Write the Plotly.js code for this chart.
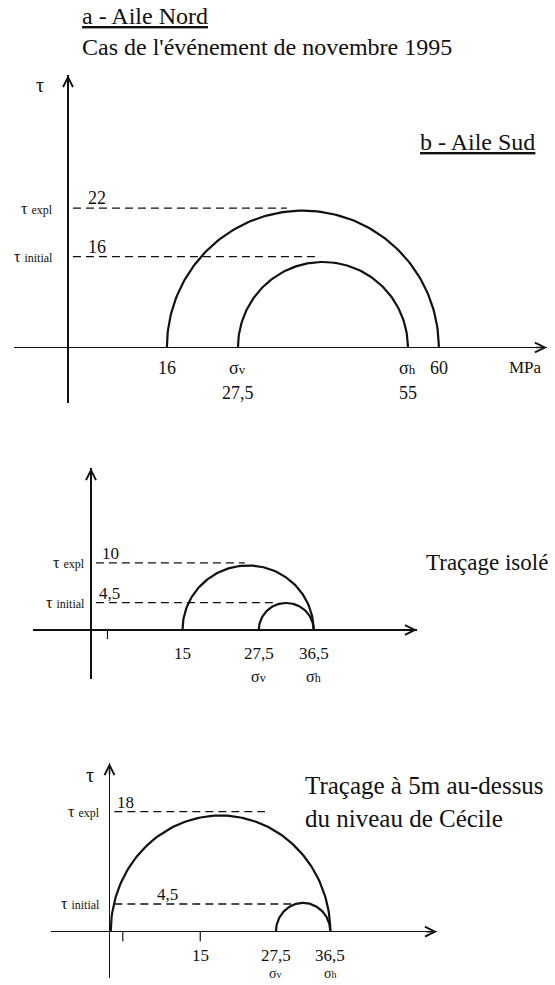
<!DOCTYPE html>
<html><head><meta charset="utf-8">
<script src="https://cdn.plot.ly/plotly-3.0.1.min.js"></script>
<style>html,body{margin:0;padding:0;background:#fff}#chart{width:555px;height:985px}</style>
</head><body><div id="chart"></div>
<script>
// ---- Panel a : Aile Nord, novembre 1995 ----
const aSigma3 = [16, 27.5];
const aSigma1 = [60, 55];
const aTauLevels = [22.4, 14.6];
const aTauEnds = [35.4, 40.8];
const aTauValues = ['22', '16'];
const aTickVals = [16, 27.5, 55, 60];
const aTickRow1 = ['16', 'σv', 'σh', '60'];
const aTickRow2 = ['', '27,5', '55', ''];
const aMinorTicks = [];
// ---- Panel b : Traçage isolé ----
const bSigma3 = [15, 27.5];
const bSigma1 = [36.5, 36.5];
const bTauLevels = [11.2, 4.55];
const bTauEnds = [25.2, 30.2];
const bTauValues = ['10', '4,5'];
const bTickVals = [15, 27.5, 36.5];
const bTickRow1 = ['15', '27,5', '36,5'];
const bTickRow2 = ['', 'σv', 'σh'];
const bMinorTicks = [2.7];
// ---- Panel c : Traçage à 5m au-dessus du niveau de Cécile ----
const cSigma3 = [0.2, 27.5];
const cSigma1 = [36.5, 36.5];
const cTauLevels = [18.75, 4.33];
const cTauEnds = [25.7, 30.1];
const cTauValues = ['18', '4,5'];
const cTickVals = [15, 27.5, 36.5];
const cTickRow1 = ['15', '27,5', '36,5'];
const cTickRow2 = ['', 'σv', 'σh'];
const cMinorTicks = [2.2, 15];
const tauNames = ['expl', 'initial'];

const W = 555, H = 985;
const PX = x => x / W, PY = y => 1 - y / H;
const INK = '#111';
const SERIF = 'Liberation Serif, Times New Roman, serif';

const panels = [
  {ax: '', s3: aSigma3, s1: aSigma1, lev: aTauLevels, ends: aTauEnds, vals: aTauValues,
   tv: aTickVals, r1: aTickRow1, r2: aTickRow2, minor: aMinorTicks,
   xdom: [13.5, 547], ydom: [75, 403], xr: [-8.82, 77.51], yr: [-8.92, 43.81],
   rows: [368, 393], rowSize: [18, 18], nameRight: 55, valX: [97, 97], numSize: 18, tauTop: [40, 85]},
  {ax: '2', s3: bSigma3, s1: bSigma1, lev: bTauLevels, ends: bTauEnds, vals: bTauValues,
   tv: bTickVals, r1: bTickRow1, r2: bTickRow2, minor: bMinorTicks,
   xdom: [33.3, 417], ydom: [468, 679], xr: [-9.46, 53.44], yr: [-8.17, 27.0],
   rows: [653, 676], rowSize: [17, 16], nameRight: 87, valX: [110, 109], numSize: 17, tauTop: null},
  {ax: '3', s3: cSigma3, s1: cSigma1, lev: cTauLevels, ends: cTauEnds, vals: cTauValues,
   tv: cTickVals, r1: cTickRow1, r2: cTickRow2, minor: cMinorTicks,
   xdom: [51.3, 437], ydom: [763, 978.3], xr: [-9.62, 54.13], yr: [-7.28, 26.36],
   rows: [955, 973], rowSize: [17, 14], nameRight: 102, valX: [125, 167], numSize: 17, tauTop: [90, 775]}
];

function semicircle(s3, s1) {
  const c = (s1 + s3) / 2, r = (s1 - s3) / 2, xs = [], ys = [];
  for (let i = 0; i <= 120; i++) {
    const t = Math.PI * (1 - i / 120);
    xs.push(c + r * Math.cos(t)); ys.push(r * Math.sin(t));
  }
  return {xs, ys};
}
function sig(label, size) {
  return label.replace(/σ([vh])/, 'σ<span style="font-size:' + Math.round(size * 0.72) + 'px">$1</span>');
}

const traces = [], annotations = [], shapes = [];
const layout = {
  width: W, height: H, margin: {l: 0, r: 0, t: 0, b: 0},
  paper_bgcolor: '#fff', plot_bgcolor: 'rgba(0,0,0,0)', showlegend: false,
  font: {family: SERIF, color: INK, size: 16}
};
const axisStyle = {showgrid: false, showticklabels: false, ticks: '', zeroline: true,
  zerolinecolor: INK, zerolinewidth: 1.5, showline: false, fixedrange: true};

panels.forEach(p => {
  const xa = 'x' + p.ax, ya = 'y' + p.ax;
  layout['xaxis' + p.ax] = Object.assign({}, axisStyle, {
    domain: [PX(p.xdom[0]), PX(p.xdom[1])], range: p.xr, anchor: ya});
  layout['yaxis' + p.ax] = Object.assign({}, axisStyle, {
    domain: [PY(p.ydom[1]), PY(p.ydom[0])], range: p.yr, anchor: xa});

  // Mohr semicircles
  p.s3.forEach((s3, i) => {
    const sc = semicircle(s3, p.s1[i]);
    traces.push({type: 'scatter', mode: 'lines', x: sc.xs, y: sc.ys, xaxis: xa, yaxis: ya,
      line: {color: INK, width: 2.2}, hoverinfo: 'skip'});
  });
  // dashed tau levels
  p.lev.forEach((lv, i) => {
    traces.push({type: 'scatter', mode: 'lines', x: [0.8, p.ends[i]], y: [lv, lv],
      xaxis: xa, yaxis: ya, line: {color: INK, width: 1.3, dash: '8px,5px'}, hoverinfo: 'skip'});
    annotations.push({xref: 'paper', yref: ya, x: PX(p.nameRight), y: lv, xanchor: 'right',
      yanchor: 'middle', showarrow: false,
      text: 'τ <span style="font-size:12px">' + tauNames[i] + '</span>', font: {size: 16}});
    annotations.push({xref: 'paper', yref: ya, x: PX(p.valX[i]), y: lv, xanchor: 'center',
      yanchor: 'bottom', yshift: -2, showarrow: false, text: p.vals[i], font: {size: p.numSize}});
  });
  // tick labels along sigma axis
  p.tv.forEach((v, i) => {
    [p.r1[i], p.r2[i]].forEach((t, k) => {
      if (!t) return;
      annotations.push({xref: xa, yref: 'paper', x: v, y: PY(p.rows[k]), xanchor: 'center',
        yanchor: 'middle', showarrow: false, text: sig(t, p.rowSize[k]),
        font: {size: p.rowSize[k]}});
    });
  });
  // minor ticks
  p.minor.forEach(v => {
    shapes.push({type: 'line', xref: xa, yref: ya, x0: v, x1: v, y0: 0, y1: -1.5,
      line: {color: INK, width: 1.2}});
  });
  // arrow heads
  annotations.push({xref: xa, yref: ya, axref: xa, ayref: ya, x: p.xr[1], y: 0,
    ax: p.xr[1] - 2, ay: 0, showarrow: true, arrowhead: 5, arrowsize: 1.3, arrowwidth: 1.5,
    arrowcolor: INK, text: '', standoff: 0});
  annotations.push({xref: xa, yref: ya, axref: xa, ayref: ya, x: 0, y: p.yr[1],
    ax: 0, ay: p.yr[1] - 2, showarrow: true, arrowhead: 5, arrowsize: 1.3, arrowwidth: 1.5,
    arrowcolor: INK, text: '', standoff: 0});
  if (p.tauTop) {
    annotations.push({xref: 'paper', yref: 'paper', x: PX(p.tauTop[0]), y: PY(p.tauTop[1]),
      xanchor: 'center', yanchor: 'middle', showarrow: false, text: 'τ', font: {size: 20}});
  }
});

// free texts
const T = (x, y, text, size, anchor) => annotations.push({xref: 'paper', yref: 'paper',
  x: PX(x), y: PY(y), xanchor: anchor || 'left', yanchor: 'middle', showarrow: false,
  text: text, font: {size: size}, align: 'left'});
T(80, 31, "<u>a - Aile Nord</u><br>Cas de l'événement de novembre 1995", 24);
T(418, 142, '<u>b - Aile Sud</u>', 24);
T(525, 367, 'MPa', 17, 'center');
T(424, 562, 'Traçage isolé', 23);
T(303, 802, 'Traçage à 5m au-dessus<br>du niveau de Cécile', 25);

layout.annotations = annotations;
layout.shapes = shapes;
Plotly.newPlot('chart', traces, layout, {displayModeBar: false, staticPlot: true});
</script></body></html>
